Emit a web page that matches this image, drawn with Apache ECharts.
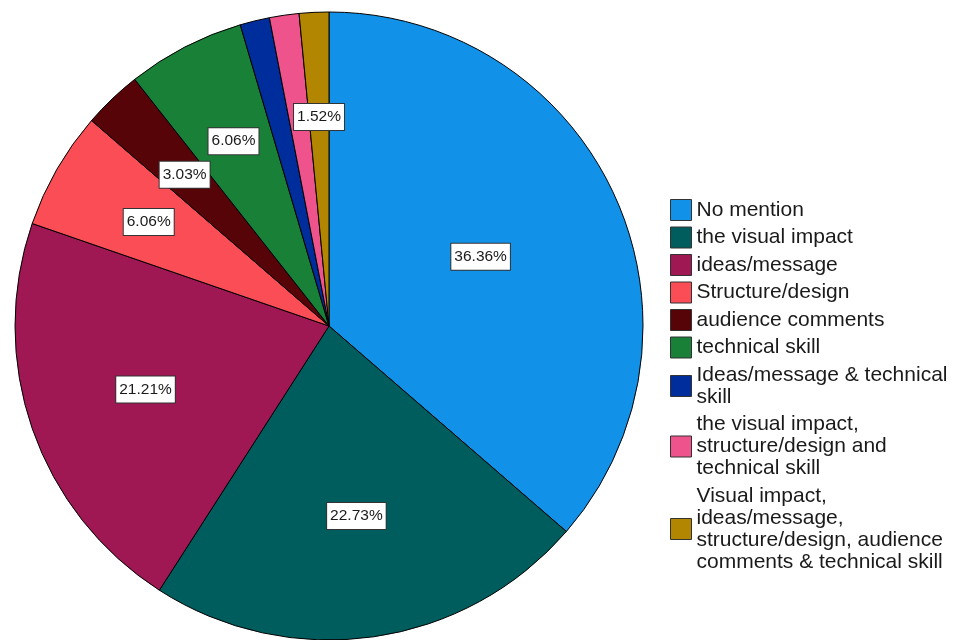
<!DOCTYPE html>
<html>
<head>
<meta charset="utf-8">
<script src="https://cdn.jsdelivr.net/npm/echarts@6/dist/echarts.min.js"></script>
<style>
  html, body { margin: 0; padding: 0; background: #fff; }
  #chart { width: 956px; height: 640px; }
</style>
</head>
<body>
<div id="chart"></div>
<script>
// Categories as they appear in the legend (line breaks included)
const categories = [
  'No mention',
  'the visual impact',
  'ideas/message',
  'Structure/design',
  'audience comments',
  'technical skill',
  'Ideas/message & technical\nskill',
  'the visual impact,\nstructure/design and\ntechnical skill',
  'Visual impact,\nideas/message,\nstructure/design, audience\ncomments & technical skill'
];

// Share of responses, percent
const percentages = [36.36, 22.73, 21.21, 6.06, 3.03, 6.06, 1.52, 1.52, 1.52];

// Slice fill colours
const colors = [
  '#1192e8', '#005d5d', '#9f1853', '#fa4d56', '#570408',
  '#198038', '#002d9c', '#ee538b', '#b28600'
];

// The two thin slices before the last one carry no percentage box
const labelShown = [true, true, true, true, true, true, false, false, true];

const FONT = '"Liberation Sans", Arial, Helvetica, sans-serif';
const CX = 329, CY = 326, R = 314;

// Percentage boxes sit on each sector's centroid
const total = percentages.reduce((a, b) => a + b, 0);
const centroids = [];
let acc = 0;
percentages.forEach(v => {
  const span = v / total * 2 * Math.PI;
  const half = span / 2;
  const mid = acc + half;
  const d = 2 * R * Math.sin(half) / (3 * half);
  centroids.push([CX + d * Math.sin(mid), CY - d * Math.cos(mid)]);
  acc += span;
});

const chart = echarts.init(document.getElementById('chart'), null, { renderer: 'canvas' });

chart.setOption({
  backgroundColor: '#ffffff',
  animation: false,
  legend: {
    orient: 'vertical',
    left: 665,
    top: 194,
    itemWidth: 21,
    itemHeight: 21,
    itemGap: 5.5,
    icon: 'rect',
    selectedMode: false,
    itemStyle: { borderColor: '#333333', borderWidth: 1 },
    textStyle: { fontFamily: FONT, fontSize: 21, lineHeight: 22, color: '#1a1a1a' },
    data: categories
  },
  series: [{
    type: 'pie',
    center: [CX, CY],
    radius: [0, R],
    startAngle: 90,
    clockwise: true,
    silent: true,
    avoidLabelOverlap: false,
    itemStyle: { borderColor: '#000000', borderWidth: 1 },
    emphasis: { disabled: true },
    labelLine: { show: false },
    label: {
      show: true,
      position: 'inside',
      formatter: p => p.value.toFixed(2) + '%',
      fontFamily: FONT,
      fontSize: 15.5,
      lineHeight: 19,
      color: '#1a1a1a',
      backgroundColor: '#ffffff',
      borderColor: '#333333',
      borderWidth: 1,
      padding: [4, 3, 3, 3]
    },
    labelLayout: params => {
      const c = centroids[params.dataIndex];
      return { x: c[0], y: c[1], align: 'center', verticalAlign: 'middle' };
    },
    data: categories.map((name, i) => ({
      name: name,
      value: percentages[i],
      itemStyle: { color: colors[i] },
      label: { show: labelShown[i] }
    }))
  }]
});
</script>
</body>
</html>
